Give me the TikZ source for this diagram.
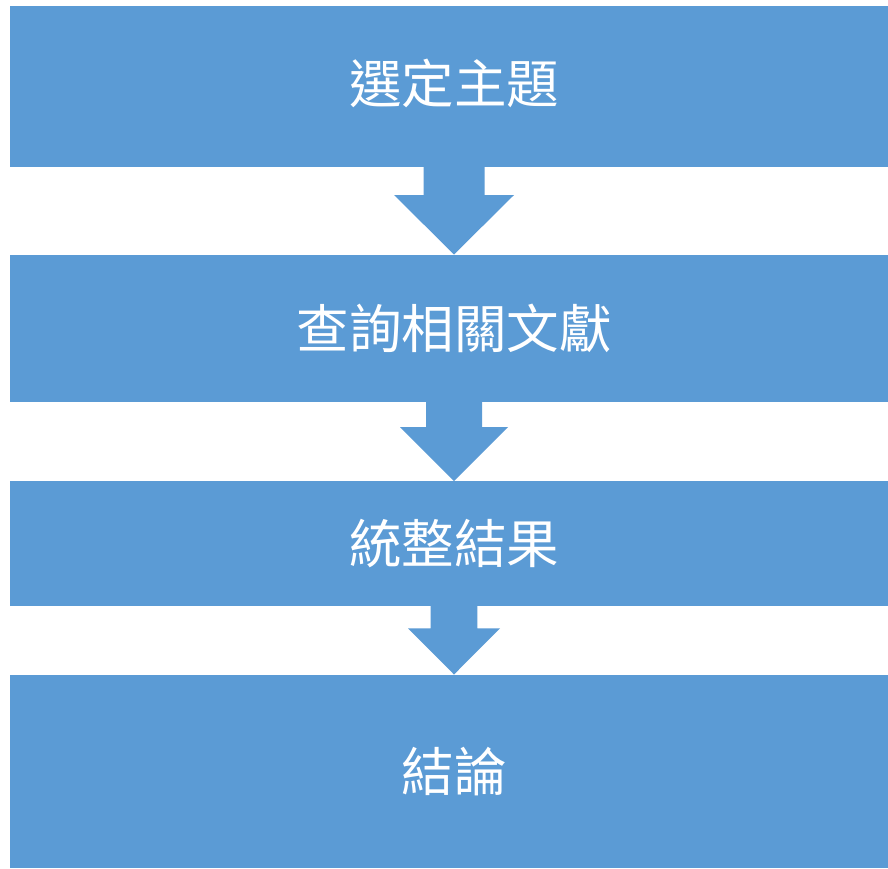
\documentclass[tikz,border=0pt]{standalone}
\usepackage{fontspec}
\newfontfamily\cjk{Noto Sans CJK TC}
\usetikzlibrary{calc}
\definecolor{boxblue}{HTML}{5B9BD5}
\tikzset{
  stagebox/.style={fill=boxblue, draw=none, inner sep=0pt, outer sep=0pt,
    minimum width=888pt, anchor=north west, text=white,
    font=\cjk\fontsize{52.5}{60}\selectfont},
  blockarrow/.style={fill=boxblue, draw=none}
}
\begin{document}
\begin{tikzpicture}[x=1pt,y=-1pt]
\useasboundingbox (0,0) rectangle (888,868);
\fill[white] (0,0) rectangle (888,868);
\node[stagebox, minimum height=160.7pt] (b1) at (10,6) {};
\node[text=white, font=\cjk\fontsize{52.5}{60}\selectfont, inner sep=0pt] (t1) at ($(b1.center)+(0,-3)$) {選定主題};
\node[stagebox, minimum height=147pt] (b2) at (10,254.5) {查詢相關文獻};
\node[stagebox, minimum height=125pt] (b3) at (10,481) {統整結果};
\node[stagebox, minimum height=193.5pt] (b4) at (10,674.5) {結論};
% block arrows between boxes
\fill[blockarrow] ($(b1.south)+(-30.5,0)$) -- ($(b1.south)+(30.5,0)$)
  -- ($(b1.south)+(30.5,28.3)$) -- ($(b1.south)+(60,28.3)$)
  -- (b2.north) -- ($(b1.south)+(-60,28.3)$) -- ($(b1.south)+(-30.5,28.3)$) -- cycle;
\fill[blockarrow] ($(b2.south)+(-28,0)$) -- ($(b2.south)+(28,0)$)
  -- ($(b2.south)+(28,25.6)$) -- ($(b2.south)+(54,25.6)$)
  -- (b3.north) -- ($(b2.south)+(-54,25.6)$) -- ($(b2.south)+(-28,25.6)$) -- cycle;
\fill[blockarrow] ($(b3.south)+(-23.3,0)$) -- ($(b3.south)+(23.3,0)$)
  -- ($(b3.south)+(23.3,22.3)$) -- ($(b3.south)+(46,22.3)$)
  -- (b4.north) -- ($(b3.south)+(-46,22.3)$) -- ($(b3.south)+(-23.3,22.3)$) -- cycle;
\end{tikzpicture}
\end{document}
